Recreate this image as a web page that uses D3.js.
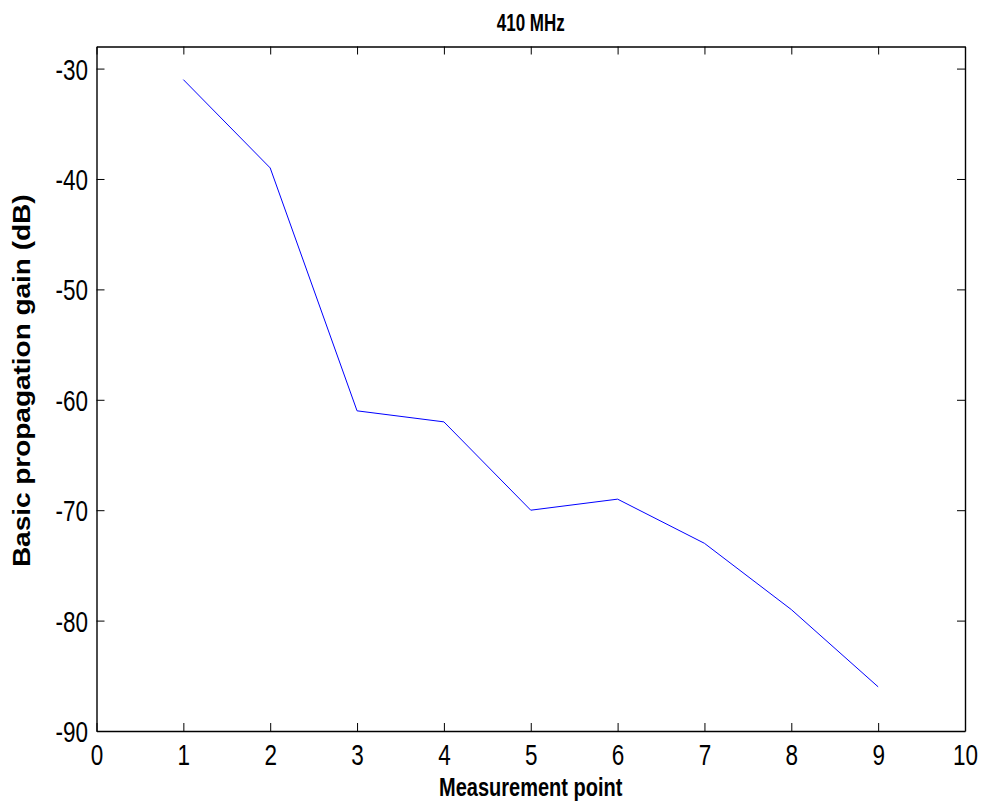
<!DOCTYPE html>
<html>
<head>
<meta charset="utf-8">
<script src="https://cdn.jsdelivr.net/npm/d3@7/dist/d3.min.js"></script>
<style>
  html, body { margin: 0; padding: 0; background: #fff; }
  text { font-family: "Liberation Sans", Arial, sans-serif; fill: #000; }
</style>
</head>
<body>
<svg id="chart" width="984" height="809"></svg>
<script>
// Measurement points and basic propagation gain (dB) at 410 MHz
const points = [1, 2, 3, 4, 5, 6, 7, 8, 9];
const gainDb = [-31, -39, -61, -62, -70, -69, -73, -79, -86];
const xTicks = [0, 1, 2, 3, 4, 5, 6, 7, 8, 9, 10];
const yTicks = [-90, -80, -70, -60, -50, -40, -30];

const svg = d3.select("#chart");
const margin = { left: 96.5, right: 19, top: 46.5, bottom: 78 };
const W = 984, H = 809;
const stretch = 1.3;       // glyphs are drawn taller than wide
const fmt = d => String(d); // plain hyphen-minus labels

const x = d3.scaleLinear().domain([0, 10]).range([margin.left, W - margin.right]);
const y = d3.scaleLinear().domain([-90, -28]).range([H - margin.bottom, margin.top]);

const tickLen = 8;

// Bottom axis with labels
const gx = svg.append("g")
  .attr("transform", `translate(0,${H - margin.bottom})`)
  .call(d3.axisBottom(x).tickValues(xTicks).tickFormat(fmt)
    .tickSizeInner(-tickLen).tickSizeOuter(0));
// Top axis, ticks only
const gxt = svg.append("g")
  .attr("transform", `translate(0,${margin.top})`)
  .call(d3.axisTop(x).tickValues(xTicks).tickFormat("")
    .tickSizeInner(-tickLen).tickSizeOuter(0));
// Left axis with labels
const gy = svg.append("g")
  .attr("transform", `translate(${margin.left},0)`)
  .call(d3.axisLeft(y).tickValues(yTicks).tickFormat(fmt)
    .tickSizeInner(-tickLen).tickSizeOuter(0));
// Right axis, ticks only
const gyr = svg.append("g")
  .attr("transform", `translate(${W - margin.right},0)`)
  .call(d3.axisRight(y).tickValues(yTicks).tickFormat("")
    .tickSizeInner(-tickLen).tickSizeOuter(0));

[gx, gxt, gy, gyr].forEach(g => {
  g.select(".domain").attr("stroke", "#000").attr("stroke-width", 1.4);
  g.selectAll(".tick line").attr("stroke", "#000").attr("stroke-width", 1);
  g.selectAll(".tick text")
    .attr("font-family", "Liberation Sans, Arial, sans-serif")
    .attr("font-size", 22.5).attr("fill", "#000")
    .attr("x", 0).attr("y", 0).attr("dy", null);
});
gx.selectAll(".tick text")
  .attr("text-anchor", "middle")
  .attr("transform", `translate(0,34) scale(1,${stretch})`);
gy.selectAll(".tick text")
  .attr("text-anchor", "end")
  .attr("transform", `translate(-8.5,10.5) scale(1,${stretch})`);

// Data line
const line = d3.line().x((d, i) => x(points[i])).y(d => y(d));
svg.append("path")
  .datum(gainDb)
  .attr("d", line)
  .attr("fill", "none")
  .attr("stroke", "#0000ff")
  .attr("stroke-width", 1);

// Title and axis labels
const cx = (margin.left + W - margin.right) / 2;
svg.append("text")
  .attr("transform", `translate(${cx},30.5) scale(1,1.4)`)
  .attr("text-anchor", "middle")
  .attr("font-size", 17).attr("font-weight", "bold")
  .text("410 MHz");

svg.append("text")
  .attr("transform", `translate(${cx},796) scale(1,${stretch})`)
  .attr("text-anchor", "middle")
  .attr("font-size", 20).attr("font-weight", "bold")
  .text("Measurement point");

svg.append("text")
  .attr("transform", `translate(30,${(margin.top + H - margin.bottom) / 2 - 8}) scale(1,1.19) rotate(-90)`)
  .attr("text-anchor", "middle")
  .attr("font-size", 23.5).attr("font-weight", "bold")
  .text("Basic propagation gain (dB)");
</script>
</body>
</html>
